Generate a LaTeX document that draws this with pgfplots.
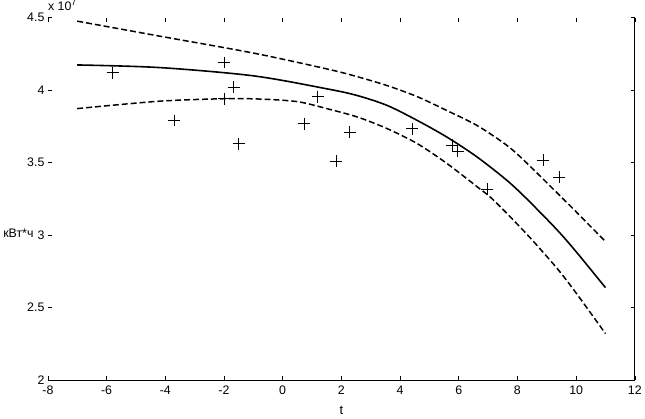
\documentclass[border=0pt]{standalone}
\usepackage{fontspec}
\setmainfont{Liberation Sans}
\usepackage{pgfplots}
\pgfplotsset{compat=1.18}

% fitted curve (solid) and its bounds (dashed), values in units of 10^7
\pgfplotstableread{
t y
-7 4.173
-4.2 4.155
-1 4.098
1.54 4.007
2.56 3.961
3.57 3.893
4.59 3.790
5.6 3.675
6.62 3.539
7.63 3.379
8.3 3.253
9.33 3.040
10 2.885
11 2.637
}\fitline
\pgfplotstableread{
t y
-7 4.475
-4.2 4.372
-1 4.255
1.54 4.144
2.56 4.091
3.57 4.030
4.59 3.954
5.6 3.858
6.62 3.756
7.63 3.620
8.3 3.500
9.33 3.295
10 3.160
11 2.955
}\upperband
\pgfplotstableread{
t y
-7 3.872
-4.2 3.923
-2 3.940
-0.8 3.938
0.5 3.920
1.54 3.870
2.56 3.813
3.57 3.733
4.59 3.630
5.6 3.493
6.62 3.334
7.18 3.242
8.3 3.010
9.33 2.775
10 2.600
11 2.320
}\lowerband
\pgfplotstableread{
t y
-5.79 4.12
-3.70 3.79
-1.99 4.19
-1.99 3.94
-1.67 4.02
-1.50 3.63
0.73 3.767
1.20 3.954
1.82 3.51
2.28 3.71
4.42 3.733
5.77 3.62
5.97 3.58
6.96 3.317
8.88 3.516
9.42 3.40
}\obs

\begin{document}
\begin{tikzpicture}[font=\fontsize{12.5}{14}\selectfont]
\begin{axis}[
    scale only axis,
    width=591bp, height=365bp,
    xmin=-8, xmax=12, ymin=2, ymax=4.5,
    xtick={-8,-6,...,12},
    ytick={2,2.5,3,3.5,4,4.5},
    scaled y ticks=false,
    /pgf/number format/assume math mode=true,
    /pgf/number format/fixed,
    yticklabel style={/pgf/number format/precision=1},
    ticklabel style={font=\fontsize{12.5}{14}\selectfont},
    xticklabel style={yshift=-2.5bp},
    label style={font=\fontsize{13}{15}\selectfont},
    tick align=inside,
    major tick length=4bp,
    every tick/.style={black, line width=0.6bp},
    separate axis lines,
    axis line style={draw=none},
    xlabel={t},
    xlabel style={yshift=-5bp},
    every axis y label/.style={at={(rel axis cs:0,0.405)}, anchor=east, xshift=-11bp},
    ylabel={кВт*ч},
    clip=false,
]
\addplot[black, line width=1.6bp, smooth] table {\fitline};
\addplot[black, line width=1.5bp, dash pattern=on 6bp off 3bp, smooth] table {\upperband};
\addplot[black, line width=1.5bp, dash pattern=on 6bp off 3bp, smooth] table {\lowerband};
\addplot[only marks, mark=+, mark size=6bp, mark options={line width=0.8bp}, black] table {\obs};
\draw[black, line width=1bp] (rel axis cs:0,0) -- (rel axis cs:1,0) -- (rel axis cs:1,1);
\node[anchor=south west, inner sep=0pt, yshift=7bp] at (rel axis cs:0,1) {x 10\textsuperscript{7}};
\end{axis}
\end{tikzpicture}
\end{document}
